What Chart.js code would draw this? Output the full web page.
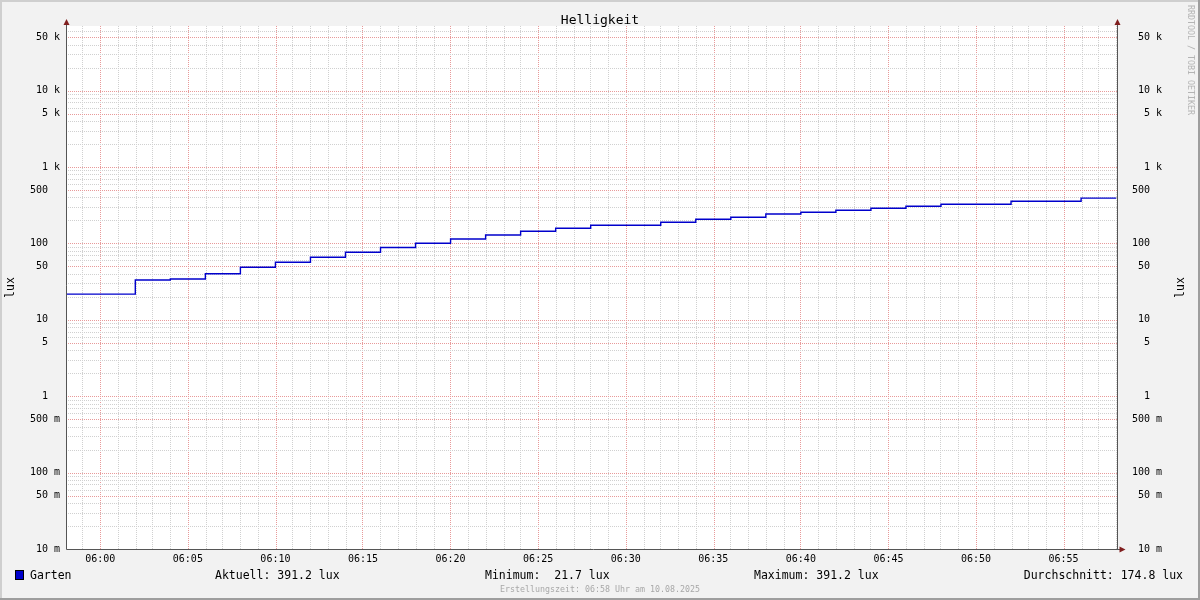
<!DOCTYPE html>
<html>
<head>
<meta charset="utf-8">
<script src="https://cdn.jsdelivr.net/npm/chart.js@4/dist/chart.umd.min.js"></script>
<style>
html, body { margin: 0; padding: 0; background: #f2f2f2; }
canvas { display: block; }
</style>
</head>
<body>
<canvas id="lux_plot" width="1200" height="600"></canvas>
<script>
// Helligkeit Garten, 05:58 - 06:58 (Wert gilt ab dem Zeitpunkt bis zum naechsten)
const stepTimes = ['05:58', '06:02', '06:04', '06:06', '06:08', '06:10', '06:12', '06:14', '06:16',
    '06:18', '06:20', '06:22', '06:24', '06:26', '06:28', '06:32', '06:34', '06:36', '06:38',
    '06:40', '06:42', '06:44', '06:46', '06:48', '06:52', '06:56', '06:58'];
const luxValues = [21.7, 33.2, 34.2, 40.1, 48.6, 56.6, 65.8, 76.4, 88.4,
    100.3, 114, 128.8, 143.9, 157.7, 172.6, 188.8, 206.6, 219.6, 242.6,
    255.4, 271, 287.9, 306, 325, 355.6, 391.2, 391.2];

const xTickLabels = ['06:00', '06:05', '06:10', '06:15', '06:20', '06:25', '06:30',
    '06:35', '06:40', '06:45', '06:50', '06:55'];
const yLabelValues = [0.01, 0.05, 0.1, 0.5, 1, 5, 10, 50, 100, 500, 1000, 5000, 10000, 50000];
const yTickLabels = ['10 m', '50 m', '100 m', '500 m', '1  ', '5  ', '10  ', '50  ', '100  ', '500  ',
    '1 k', '5 k', '10 k', '50 k'];

const seriesName = 'Garten';
const statNames = ['Aktuell:', 'Minimum: ', 'Maximum:', 'Durchschnitt:'];
const statValues = ['391.2', '21.7', '391.2', '174.8'];
const unit = 'lux';
const title = 'Helligkeit';
const footer = 'Erstellungszeit: 06:58 Uhr am 10.08.2025';
const watermark = 'RRDTOOL / TOBI OETIKER';

const yMin = 0.01, yMax = 70000;
const FONT = '"DejaVu Sans Mono", monospace';
const minorGrid = '#d0d0d0';
const majorGrid = '#e89a9a';

const toMin = t => { const [h, m] = t.split(':').map(Number); return h * 60 + m - 360; };
const points = stepTimes.map((t, i) => ({ x: toMin(t), y: luxValues[i] }));

// Gitter: jede Minute, jede ganze Vielfache einer Dekade
const xGrid = [];
for (let m = -1; m <= 58; m++) xGrid.push(m);
const xLabelAt = v => { const i = xTickLabels.findIndex(t => toMin(t) === v); return i < 0 ? '' : xTickLabels[i]; };

const yGrid = [];
for (let e = -2; e <= 4; e++) {
    for (let s = 1; s <= 9; s++) {
        const v = +(s * Math.pow(10, e)).toPrecision(3);
        if (v <= yMax) yGrid.push(v);
    }
}
const yLabelIdx = v => yLabelValues.findIndex(l => Math.abs(l - v) / l < 1e-6);
const yLabelAt = v => { const i = yLabelIdx(v); return i < 0 ? '' : yTickLabels[i]; };

const rrdFrame = {
    id: 'rrdFrame',
    beforeDraw(chart) {
        const { ctx, chartArea: a, width: w, height: h } = chart;
        ctx.save();
        ctx.fillStyle = '#f2f2f2';
        ctx.fillRect(0, 0, w, h);
        ctx.fillStyle = '#cfcfcf';
        ctx.fillRect(0, 0, w, 2);
        ctx.fillRect(0, 0, 2, h);
        ctx.fillStyle = '#9e9e9e';
        ctx.fillRect(0, h - 2, w, 2);
        ctx.fillRect(w - 2, 0, 2, h);
        ctx.fillStyle = '#ffffff';
        ctx.fillRect(a.left, a.top, a.right - a.left, a.bottom - a.top);
        ctx.restore();
    },
    beforeDatasetsDraw(chart) {
        // punktiertes Gitter, Pixel fuer Pixel (gerade Spalten/Zeilen)
        const { ctx, chartArea: a, scales } = chart;
        const top = Math.round(a.top), bot = Math.round(a.bottom), lft = Math.round(a.left), rgt = Math.round(a.right);
        const even = p => Math.round(p / 2) * 2;
        ctx.save();
        xGrid.forEach(v => {
            const px = even(scales.x.getPixelForValue(v));
            if (px <= lft || px >= rgt) return;
            ctx.fillStyle = xLabelAt(v) !== '' ? majorGrid : minorGrid;
            for (let y = even(top); y < bot; y += 2) ctx.fillRect(px, y, 1, 1);
        });
        yGrid.forEach(v => {
            const py = Math.round(scales.y.getPixelForValue(v));
            if (py <= top || py >= bot) return;
            ctx.fillStyle = yLabelIdx(v) >= 0 ? majorGrid : minorGrid;
            for (let x = even(lft + 1); x < rgt; x += 2) ctx.fillRect(x, py, 1, 1);
        });
        ctx.restore();
    },
    afterDraw(chart) {
        const { ctx, chartArea: a } = chart;
        const L = Math.round(a.left) - 0.5, R = Math.round(a.right) + 0.5, B = Math.round(a.bottom) + 0.5;
        ctx.save();
        // Achsen
        ctx.strokeStyle = '#555555';
        ctx.lineWidth = 1;
        ctx.beginPath();
        ctx.moveTo(L, a.top - 4); ctx.lineTo(L, B); ctx.lineTo(R + 3, B);
        ctx.moveTo(R, a.top - 4); ctx.lineTo(R, B);
        ctx.stroke();
        // Pfeile
        ctx.fillStyle = '#801f1f';
        const up = x => { ctx.beginPath(); ctx.moveTo(x - 3, a.top - 1); ctx.lineTo(x + 3, a.top - 1); ctx.lineTo(x, a.top - 7); ctx.closePath(); ctx.fill(); };
        up(L); up(R);
        ctx.beginPath();
        ctx.moveTo(R + 2, B - 3); ctx.lineTo(R + 2, B + 3); ctx.lineTo(R + 8, B); ctx.closePath(); ctx.fill();

        // Titel
        ctx.fillStyle = '#000';
        ctx.textBaseline = 'middle';
        ctx.textAlign = 'center';
        ctx.font = '13px ' + FONT;
        ctx.fillText(title, 600, 21);

        // Einheit an beiden Seiten
        ctx.font = '11.5px ' + FONT;
        [11, 1181].forEach(x => {
            ctx.save();
            ctx.translate(x, (a.top + a.bottom) / 2);
            ctx.rotate(-Math.PI / 2);
            ctx.fillText(unit, 0, 0);
            ctx.restore();
        });

        // Wasserzeichen
        ctx.save();
        ctx.fillStyle = '#b4b4b4';
        ctx.font = '8.3px ' + FONT;
        ctx.translate(1190, 5);
        ctx.rotate(Math.PI / 2);
        ctx.textAlign = 'left';
        ctx.fillText(watermark, 0, 0);
        ctx.restore();

        // Legende
        ctx.fillStyle = '#0000cc';
        ctx.fillRect(15, 570, 9, 10);
        ctx.strokeStyle = '#000';
        ctx.strokeRect(15.5, 570.5, 8, 9);
        ctx.fillStyle = '#000';
        ctx.font = '11.5px ' + FONT;
        ctx.textAlign = 'left';
        ctx.fillText(seriesName, 30, 576);
        const statX = [215, 485, 754];
        statX.forEach((x, i) => ctx.fillText(statNames[i] + ' ' + statValues[i] + ' ' + unit, x, 576));
        ctx.textAlign = 'right';
        ctx.fillText(statNames[3] + ' ' + statValues[3] + ' ' + unit, 1183, 576);

        ctx.textAlign = 'center';
        ctx.fillStyle = '#a8a8a8';
        ctx.font = '8.3px ' + FONT;
        ctx.fillText(footer, 600, 590);
        ctx.restore();
    }
};

const tickFont = { family: FONT, size: 10 };

new Chart(document.getElementById('lux_plot').getContext('2d'), {
    type: 'line',
    data: {
        datasets: [{
            label: seriesName,
            data: points,
            stepped: 'before',
            borderColor: '#0000cc',
            borderWidth: 1.4,
            pointRadius: 0,
            fill: false,
            xAxisID: 'x',
            yAxisID: 'y'
        }]
    },
    options: {
        responsive: false,
        animation: false,
        layout: { padding: { top: 26, left: 0, right: 38, bottom: 0 } },
        plugins: {
            legend: { display: false },
            tooltip: { enabled: false },
            title: { display: false }
        },
        scales: {
            x: {
                type: 'linear',
                position: 'bottom',
                min: -1.90,
                max: 58.05,
                afterBuildTicks: s => { s.ticks = xGrid.map(v => ({ value: v })); },
                afterFit: s => { s.height = 51; },
                ticks: {
                    autoSkip: false,
                    maxRotation: 0,
                    minRotation: 0,
                    padding: 4,
                    color: '#000',
                    font: tickFont,
                    callback: v => xLabelAt(v)
                },
                grid: { display: false, drawTicks: false },
                border: { display: false }
            },
            y: {
                type: 'logarithmic',
                position: 'left',
                min: yMin,
                max: yMax,
                afterBuildTicks: s => { s.ticks = yGrid.map(v => ({ value: v })); },
                afterFit: s => { s.width = 67; },
                ticks: {
                    autoSkip: false,
                    padding: 7,
                    color: '#000',
                    font: tickFont,
                    callback: v => yLabelAt(v)
                },
                grid: { display: false, drawTicks: false },
                border: { display: false }
            },
            y2: {
                type: 'logarithmic',
                position: 'right',
                min: yMin,
                max: yMax,
                afterBuildTicks: s => { s.ticks = yGrid.map(v => ({ value: v })); },
                afterFit: s => { s.width = 45; },
                ticks: {
                    autoSkip: false,
                    padding: 15,
                    crossAlign: 'far',
                    color: '#000',
                    font: tickFont,
                    callback: v => yLabelAt(v)
                },
                grid: { display: false, drawTicks: false },
                border: { display: false }
            }
        }
    },
    plugins: [rrdFrame]
});
</script>
</body>
</html>
